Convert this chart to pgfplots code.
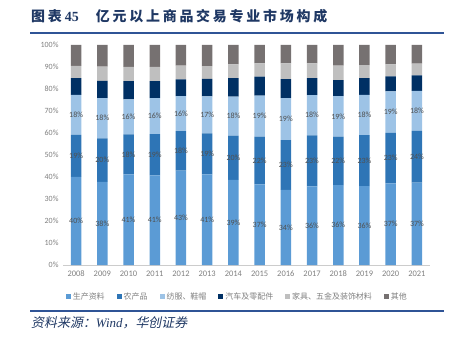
\documentclass[border=0pt]{standalone}
\usepackage{pgfplots}
\pgfplotsset{compat=1.18}
\usepackage{pgfplotstable}
\usepackage{fontspec}
\setmainfont{Carlito}
\newfontfamily\cjk{Noto Sans CJK SC}
\newfontfamily\cjktitle[LetterSpace=20]{Noto Sans CJK SC}
\newfontfamily\cjkit[FakeSlant=0.2]{Noto Sans CJK SC}
\newfontfamily\serif{Liberation Serif}
\definecolor{cA}{HTML}{5B9BD5}
\definecolor{cB}{HTML}{2E75B6}
\definecolor{cC}{HTML}{9DC3E6}
\definecolor{cD}{HTML}{003064}
\definecolor{cE}{HTML}{BFBFBF}
\definecolor{cF}{HTML}{767171}
\definecolor{txt}{HTML}{7F7F7F}
\definecolor{lbltxt}{HTML}{505050}
\definecolor{navy}{HTML}{1F3864}
\definecolor{rule}{HTML}{2F5496}
\pgfplotstableread{
year A B C D E F
2008 40.1 19.0 18.2 7.6 5.6 9.5
2009 37.8 19.8 18.3 7.8 6.5 9.8
2010 41.2 18.2 15.9 8.3 6.5 9.9
2011 40.7 18.8 16.3 7.8 6.5 9.9
2012 42.9 18.0 15.9 7.6 6.2 9.4
2013 41.2 18.6 16.8 8.0 5.8 9.6
2014 38.7 20.1 17.7 8.4 6.3 8.8
2015 36.6 21.8 18.6 8.6 6.1 8.3
2016 34.2 22.6 19.0 8.7 7.2 8.3
2017 35.7 23.2 18.3 7.8 6.6 8.4
2018 36.3 22.0 18.5 7.2 6.6 9.4
2019 35.9 23.1 18.3 7.6 6.0 9.1
2020 37.1 23.0 18.8 6.8 5.5 8.8
2021 37.4 23.6 18.2 7.0 5.3 8.5
}\data
\pgfplotsset{
  common/.style={
    at={(63bp,71bp)}, anchor=south west,
    scale only axis, width=367bp, height=220bp,
    xmin=2007.5, xmax=2021.5, ymin=0, ymax=100,
  },
  lbl/.style={draw=none, mark=none, nodes near coords={\pgfmathprintnumber[fixed,precision=0]{\pgfplotspointmeta}\%},
    every node near coord/.append style={font=\fontsize{8}{9}\selectfont, text=lbltxt, anchor=center}},
}
\begin{document}
\begin{tikzpicture}[x=1bp,y=1bp]
\path (0,0) rectangle (450,336);
\node[anchor=west,text=navy,inner sep=0] at (31,320) {\fontsize{14}{16}\cjktitle\bfseries 图表\hspace{3bp}{\serif\bfseries 45}\hspace{17bp}亿元以上商品交易专业市场构成};
\draw[rule,line width=1.5bp] (30,303) -- (444,303);
\draw[rule,line width=1.5bp] (30,25) -- (444,25);
\node[anchor=west,text=navy,inner sep=0] at (31,13) {\fontsize{13}{15}\cjkit 资料来源：{\serif\itshape Wind}，华创证券};
\begin{axis}[
  common,
  ybar stacked, bar width=10.5bp,
  xtick=data, ytick={0,10,...,100},
  /pgf/number format/assume math mode=true,
  /pgf/number format/1000 sep={},
  yticklabel={\pgfmathprintnumber{\tick}\%},
  ticklabel style={text=txt},
  xticklabel style={font=\fontsize{8.5}{10}\selectfont, yshift=-2bp},
  yticklabel style={font=\fontsize{8}{10}\selectfont, xshift=-1bp},
  axis y line*=left, axis x line*=bottom,
  y axis line style={draw=none},
  x axis line style={draw=black!20, line width=0.6bp},
  major tick length=0pt,
  legend style={at={(0.475,-0.105)}, anchor=north, draw=none, fill=none,
    legend columns=6, font=\fontsize{8}{9}\cjk, text=txt,
    /tikz/every even column/.append style={column sep=10bp}},
  legend image code/.code={\fill[#1] (0bp,-2.5bp) rectangle (5bp,2.5bp);},
  every axis plot/.append style={draw=none},
]
\addplot[fill=cA] table[x=year,y=A]{\data};
\addplot[fill=cB] table[x=year,y=B]{\data};
\addplot[fill=cC] table[x=year,y=C]{\data};
\addplot[fill=cD] table[x=year,y=D]{\data};
\addplot[fill=cE] table[x=year,y=E]{\data};
\addplot[fill=cF] table[x=year,y=F]{\data};
\legend{生产资料,农产品,纺服、鞋帽,汽车及零配件,家具、五金及装饰材料,其他}
\end{axis}
\begin{axis}[common, hide axis, /pgf/number format/assume math mode=true]
\addplot[lbl, point meta={\thisrow{A}}] table[x=year, y expr={\thisrow{A}/2}]{\data};
\addplot[lbl, point meta={\thisrow{B}}] table[x=year, y expr={\thisrow{A}+\thisrow{B}/2}]{\data};
\addplot[lbl, point meta={\thisrow{C}}] table[x=year, y expr={\thisrow{A}+\thisrow{B}+\thisrow{C}/2}]{\data};
\end{axis}
\end{tikzpicture}
\end{document}
